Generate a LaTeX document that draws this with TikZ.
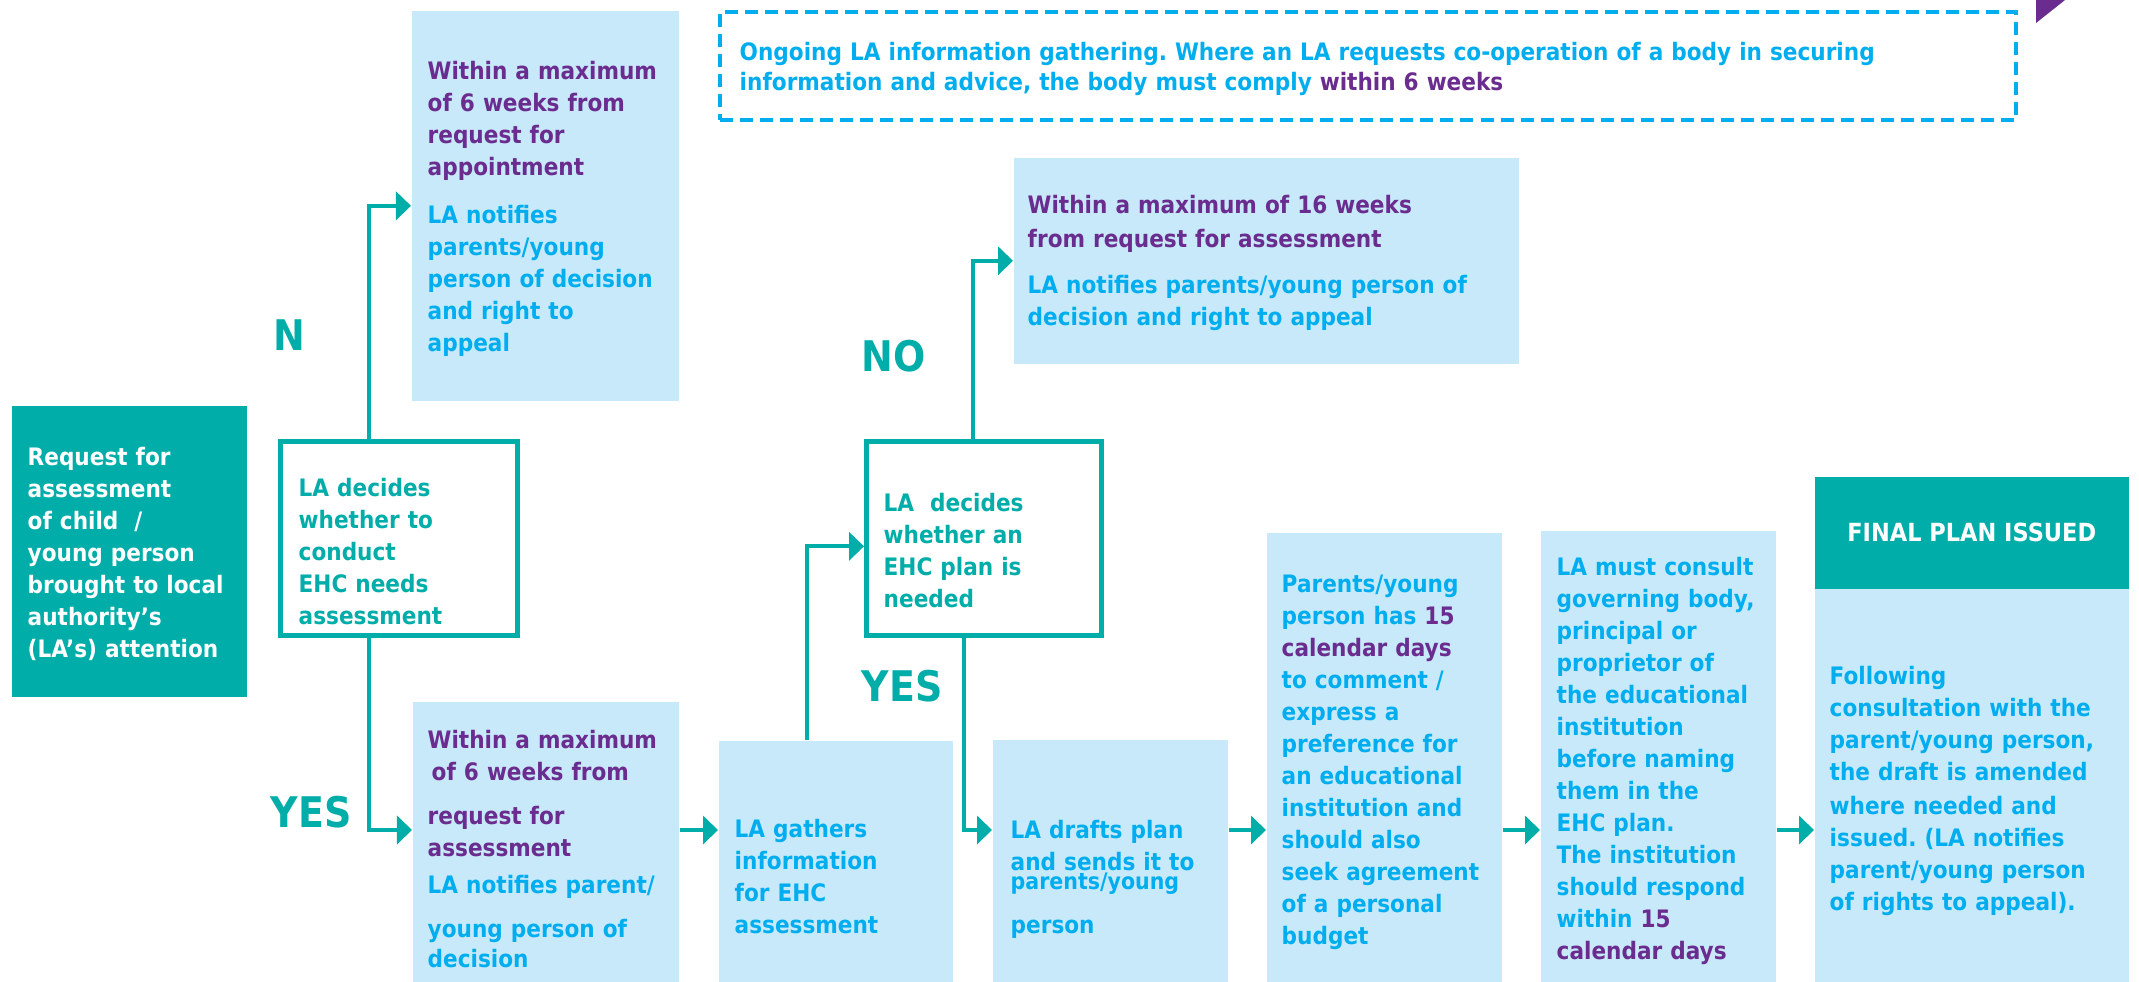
\documentclass[tikz,border=0pt]{standalone}
\usepackage{fontspec}
\setmainfont{DejaVu Sans}[FakeStretch=0.9]
\usetikzlibrary{arrows.meta}
\definecolor{ehcteal}{HTML}{00ADA9}
\definecolor{ehcsky}{HTML}{C7E9F9}
\definecolor{ehccyan}{HTML}{00AEEF}
\definecolor{ehcpurple}{HTML}{6A2C8F}
\frenchspacing
\begin{document}
\begin{tikzpicture}[x=0.01cm, y=-0.01cm,
    lbox/.style={fill=ehcsky, inner sep=0, anchor=north west},
    tbox/.style={fill=ehcteal, inner sep=0, anchor=north west},
    dbox/.style={draw=ehcteal, line width=0.045cm, fill=white, inner sep=0, anchor=north west, minimum width=2.37cm, minimum height=1.94cm},
    txt/.style={anchor=base west, inner sep=0, text width=3.6cm, align=left, text=ehccyan, font=\bfseries\fontsize{6.83pt}{9.1pt}\selectfont},
    lab/.style={text=ehcteal, inner sep=0, font=\bfseries\fontsize{12pt}{14pt}\selectfont},
    flow/.style={draw=ehcteal, line width=0.04cm, -{Triangle[length=0.15cm, width=0.28cm]}}]
    \useasboundingbox (0,0) rectangle (2139,981);

    \node[tbox, minimum width=2.35cm, minimum height=2.91cm] (req) at (11,405) {};
    \node[dbox] (dec1) at (278,439) {};
    \node[lbox, minimum width=2.67cm, minimum height=3.90cm] (tl) at (411,10) {};
    \node[lbox, minimum width=2.66cm, minimum height=2.80cm] (bl) at (412,701) {};
    \node[lbox, minimum width=2.34cm, minimum height=2.41cm] (gat) at (718,740) {};
    \node[dbox, minimum width=2.35cm] (dec2) at (864,439) {};
    \node[lbox, minimum width=5.05cm, minimum height=2.06cm] (wk16) at (1013,157) {};
    \node[draw=ehccyan, line width=0.04cm, dash pattern=on 0.13cm off 0.07cm, inner sep=0, anchor=north west, minimum width=12.95cm, minimum height=1.08cm] (gath) at (718,10) {};
    \node[lbox, minimum width=2.35cm, minimum height=2.42cm] (drafts) at (992,739) {};
    \node[lbox, minimum width=2.35cm, minimum height=4.49cm] (par) at (1266,532) {};
    \node[lbox, minimum width=2.35cm, minimum height=4.51cm] (cons) at (1540,530) {};
    \node[tbox, minimum width=3.14cm, minimum height=1.12cm, text=white, font=\bfseries\fontsize{7.1pt}{9pt}\selectfont] (fhead) at (1814,476) {FINAL PLAN ISSUED};
    \node[lbox, minimum width=3.14cm, minimum height=3.93cm] (fbody) at (1814,588) {};
    \fill[ehcpurple] (2036,0) -- (2065,0) -- (2036,23) -- cycle;

    \coordinate (row) at (0,830);
    \draw[flow] ([xshift=-0.295cm]dec1.north) |- (tl.west);
    \draw[flow] ([xshift=-0.295cm]dec1.south) |- (bl.west |- row);
    \draw[flow] (bl.east |- row) -- (gat.west |- row);
    \draw[flow] ([xshift=-0.29cm]gat.north) |- ([yshift=-0.08cm]dec2.west);
    \draw[flow] ([xshift=-0.105cm]dec2.north) |- (wk16.west);
    \draw[flow] ([xshift=-0.195cm]dec2.south) |- (drafts.west |- row);
    \draw[flow] (drafts.east |- row) -- (par.west |- row);
    \draw[flow] (par.east |- row) -- (cons.west |- row);
    \draw[flow] (cons.east |- row) -- (fbody.west |- row);

    \node[lab] (labN) at (289,335) {N};
    \node[lab] (labY1) at (311,812) {YES};
    \node[lab] (labNo) at (894,356) {NO};
    \node[lab] (labY2) at (902,686) {YES};

    \node[txt, text=white] (reqT) at (27,465) {Request for\\assessment\\of child~~/\\young person\\brought to local\\authority’s\\(LA’s) attention};
    \node[txt, text=ehcteal] (dec1T) at (298,496) {LA decides\\whether to\\conduct\\EHC needs\\assessment};
    \node[txt, text=ehcpurple] (tlT) at (427,79) {Within a maximum\\of 6 weeks from\\request for\\appointment\\[0.16cm]\color{ehccyan}LA notifies\\parents/young\\person of decision\\and right to\\appeal};
    \node[txt, text=ehcpurple] (blT) at (427,748) {Within a maximum\\\hspace{0.04cm}of 6 weeks from\\[0.12cm]request for\\assessment\\[0.05cm]\color{ehccyan}LA notifies parent/\\[0.12cm]young person of\\[-0.02cm]decision};
    \node[txt] (gatT) at (734,837) {LA gathers\\information\\for EHC\\assessment};
    \node[txt, text=ehcteal] (dec2T) at (883,511) {LA~~decides\\whether an\\EHC plan is\\needed};
    \node[txt, text=ehcpurple, text width=5cm] (wk16T) at (1027,213) {Within a maximum of 16 weeks\\[0.02cm]from request for assessment\\[0.14cm]\color{ehccyan}LA notifies parents/young person of\\decision and right to appeal};
    \node[txt, text width=12.6cm, font=\bfseries\fontsize{6.83pt}{8.8pt}\selectfont] (gathT) at (739,60) {Ongoing LA information gathering. Where an LA requests co-operation of a body in securing\\information and advice, the body must comply {\color{ehcpurple}within 6 weeks}};
    \node[txt] (draftsT) at (1010,838) {LA drafts plan\\and sends it to\\[-0.13cm]{\fontsize{6.5pt}{9.1pt}\selectfont parents/young}\\[0.12cm]person};
    \node[txt] (parT) at (1281,592) {Parents/young\\person has {\color{ehcpurple}15}\\{\color{ehcpurple}calendar days}\\to comment /\\express a\\preference for\\an educational\\institution and\\should also\\seek agreement\\of a personal\\budget};
    \node[txt] (consT) at (1556,575) {LA must consult\\governing body,\\principal or\\proprietor of\\the educational\\institution\\before naming\\them in the\\EHC plan.\\The institution\\should respond\\within {\color{ehcpurple}15}\\{\color{ehcpurple}calendar days}};
    \node[txt] (fbodyT) at (1829,684) {Following\\consultation with the\\parent/young person,\\the draft is amended\\[0.02cm]where needed and\\issued. (LA notifies\\parent/young person\\of rights to appeal).};
\end{tikzpicture}
\end{document}
